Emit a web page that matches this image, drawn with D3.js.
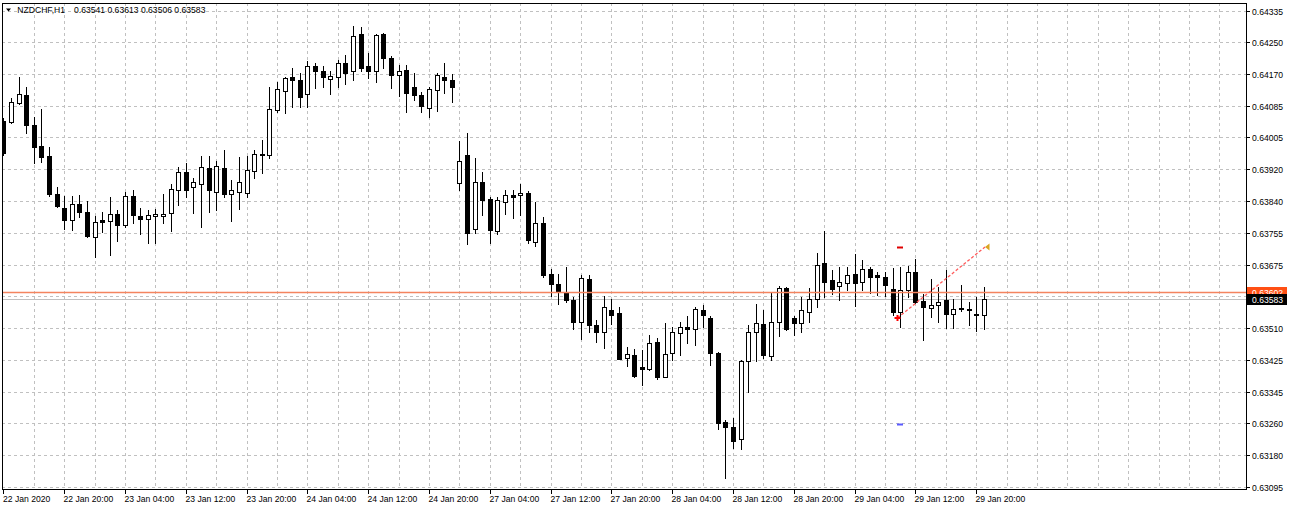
<!DOCTYPE html>
<html><head><meta charset="utf-8">
<script src="https://cdn.jsdelivr.net/npm/d3@7"></script>
<style>
html,body{margin:0;padding:0;background:#fff;}
svg{display:block;font-family:"Liberation Sans",Arial,sans-serif;}
</style></head><body>
<svg id="c" width="1290" height="510"></svg>
<script>
const symbol = "NZDCHF,H1";
const opens = [
.64045,.64044,.64091,.64113,.64034,.63981,.63955,.63856,.63820,.63788,
.63829,.63809,.63744,.63787,.63786,.63804,.63774,.63851,.63799,.63791,
.63798,.63798,.63806,.63867,.63913,.63873,.63882,.63923,.63862,.63923,
.63855,.63860,.63858,.63916,.63960,.63958,.64074,.64124,.64159,.64152,
.64116,.64189,.64174,.64155,.64159,.64195,.64174,.64272,.64187,.64176,
.64272,.64208,.64165,.64178,.64133,.64113,.64078,.64126,.64159,.64152,
.63884,.63957,.63764,.63886,.63842,.63760,.63834,.63853,.63852,.63859,
.63732,.63780,.63648,.63622,.63602,.63580,.63524,.63634,.63515,.63496,
.63553,.63547,.63429,.63438,.63407,.63400,.63470,.63381,.63442,.63494,
.63510,.63504,.63553,.63533,.63442,.63262,.63251,.63218,.63423,.63497,
.63518,.63435,.63524,.63611,.63533,.63521,.63550,.63584,.63676,.63631,
.63617,.63624,.63647,.63626,.63661,.63644,.63639,.63608,.63550,.63605,
.63652,.63578,.63559,.63567,.63580,.63543,.63560,.63557,.63543,.63541];
const highs = [
.64053,.64105,.64161,.64135,.64057,.64076,.63977,.63873,.63851,.63851,
.63853,.63838,.63799,.63810,.63847,.63814,.63861,.63866,.63819,.63814,
.63816,.63856,.63881,.63925,.63936,.63896,.63954,.63955,.63942,.63970,
.63893,.63953,.63955,.63970,.63996,.64135,.64148,.64161,.64182,.64171,
.64200,.64197,.64189,.64174,.64204,.64217,.64292,.64289,.64221,.64272,
.64275,.64213,.64191,.64191,.64169,.64122,.64135,.64169,.64197,.64168,
.63994,.64014,.63949,.63914,.63848,.63849,.63866,.63866,.63881,.63864,
.63835,.63795,.63660,.63648,.63667,.63587,.63645,.63645,.63528,.63591,
.63582,.63563,.63459,.63452,.63451,.63490,.63481,.63521,.63510,.63524,
.63539,.63563,.63567,.63539,.63445,.63269,.63273,.63425,.63515,.63570,
.63554,.63602,.63617,.63615,.63539,.63587,.63611,.63703,.63760,.63658,
.63665,.63667,.63699,.63683,.63665,.63654,.63654,.63663,.63665,.63669,
.63686,.63596,.63634,.63615,.63657,.63582,.63619,.63575,.63589,.63613];
const lows = [
.63957,.64040,.64089,.64014,.63936,.63940,.63851,.63821,.63765,.63763,
.63797,.63745,.63692,.63758,.63697,.63734,.63771,.63780,.63753,.63729,
.63729,.63780,.63760,.63827,.63847,.63807,.63771,.63809,.63813,.63849,
.63786,.63816,.63847,.63897,.63911,.63949,.64070,.64067,.64083,.64083,
.64083,.64130,.64135,.64116,.64135,.64142,.64152,.64174,.64156,.64148,
.64182,.64130,.64110,.64070,.64100,.64070,.64055,.64072,.64119,.64096,
.63866,.63725,.63755,.63801,.63729,.63752,.63804,.63793,.63801,.63729,
.63721,.63641,.63591,.63569,.63576,.63504,.63478,.63496,.63472,.63455,
.63518,.63426,.63409,.63381,.63360,.63398,.63374,.63379,.63425,.63438,
.63468,.63464,.63511,.63412,.63245,.63117,.63195,.63193,.63340,.63423,
.63429,.63425,.63487,.63502,.63489,.63498,.63524,.63561,.63589,.63596,
.63579,.63606,.63565,.63606,.63598,.63593,.63591,.63540,.63511,.63587,
.63572,.63477,.63536,.63524,.63507,.63507,.63552,.63516,.63501,.63506];
const closes = [
.63962,.64096,.64115,.64035,.63979,.63953,.63855,.63825,.63788,.63829,
.63809,.63747,.63782,.63783,.63805,.63775,.63851,.63801,.63791,.63801,
.63805,.63805,.63868,.63913,.63867,.63886,.63927,.63865,.63929,.63855,
.63866,.63888,.63918,.63959,.63956,.64076,.64128,.64156,.64152,.64107,
.64189,.64174,.64159,.64162,.64195,.64171,.64266,.64184,.64176,.64269,
.64208,.64165,.64176,.64119,.64112,.64084,.64128,.64165,.64152,.64135,
.63942,.63754,.63886,.63840,.63762,.63840,.63853,.63849,.63859,.63735,
.63781,.63645,.63621,.63602,.63579,.63522,.63637,.63515,.63496,.63561,
.63541,.63427,.63439,.63382,.63402,.63468,.63380,.63440,.63496,.63511,
.63504,.63556,.63541,.63442,.63260,.63250,.63215,.63423,.63498,.63520,
.63438,.63522,.63611,.63504,.63520,.63553,.63584,.63671,.63628,.63608,
.63627,.63645,.63625,.63661,.63639,.63641,.63619,.63548,.63605,.63652,
.63575,.63561,.63567,.63576,.63544,.63557,.63558,.63554,.63541,.63583];

const xTickLabels = ["22 Jan 2020","22 Jan 20:00","23 Jan 04:00","23 Jan 12:00","23 Jan 20:00",
  "24 Jan 04:00","24 Jan 12:00","24 Jan 20:00","27 Jan 04:00","27 Jan 12:00","27 Jan 20:00",
  "28 Jan 04:00","28 Jan 12:00","28 Jan 20:00","29 Jan 04:00","29 Jan 12:00","29 Jan 20:00"];
const yTickLabels = ["0.63095","0.63180","0.63260","0.63345","0.63425","0.63510","0.63590","0.63675",
  "0.63755","0.63840","0.63920","0.64005","0.64085","0.64170","0.64250","0.64335"];
const yTickBase = 0.63095, yTickStep = 0.000825;
const labelEvery = 8, gridEvery = 4;
const askPrice = 0.63602;   // orange line
const bidPrice = 0.63583;   // last close
const trade = {openBar:118, openPrice:0.63533, tp:0.63718, sl:0.63259, closeBar:129, closePrice:0.63719};

const svg = d3.select("#c");
const L = 2, T = 3, R = 1246, B = 489;
const x = d3.scaleLinear().domain([0, 129]).range([3.3, 983.7]);
const y = d3.scaleLinear().domain([0.63095, 0.643325]).range([486.75, 10.5]);
const n = opens.length;
const cx = i => Math.round(x(i));
const py = v => Math.round(y(v));

svg.append("rect").attr("width",1290).attr("height",510).attr("fill","#fff");
svg.append("defs").append("clipPath").attr("id","plot")
  .append("rect").attr("x",L+1).attr("y",T+1).attr("width",R-L-1).attr("height",B-T-1);

const grid = svg.append("g").attr("clip-path","url(#plot)")
  .attr("stroke","#c0c0c0").attr("stroke-dasharray","3,3").attr("shape-rendering","crispEdges");
const yTickVals = yTickLabels.map((s,k) => yTickBase + k*yTickStep);
grid.selectAll("line.h").data(yTickVals).join("line")
  .attr("x1",L).attr("x2",R).attr("y1",d=>py(d)+0.5).attr("y2",d=>py(d)+0.5);
const gridBars = d3.range(gridEvery, 164, gridEvery);
grid.selectAll("line.v").data(gridBars).join("line")
  .attr("y1",T).attr("y2",B).attr("x1",d=>cx(d)+0.5).attr("x2",d=>cx(d)+0.5);

const plot = svg.append("g").attr("clip-path","url(#plot)");
// bid line
plot.append("line").attr("x1",L).attr("x2",R).attr("y1",py(bidPrice)+0.5).attr("y2",py(bidPrice)+0.5)
  .attr("stroke","#c0c0c0").attr("shape-rendering","crispEdges");

const bars = d3.range(n).map(i => ({i, o:opens[i], h:highs[i], l:lows[i], c:closes[i]}));
const cg = plot.append("g").attr("shape-rendering","crispEdges");
cg.selectAll("line.wick").data(bars).join("line")
  .attr("x1",d=>cx(d.i)+0.5).attr("x2",d=>cx(d.i)+0.5)
  .attr("y1",d=>py(d.h)).attr("y2",d=>py(d.l)+1).attr("stroke","#000");
cg.selectAll("rect.body").data(bars).join("rect")
  .each(function(d){
    const top = py(Math.max(d.o,d.c)), bot = py(Math.min(d.o,d.c));
    const s = d3.select(this);
    if (d.c > d.o) {
      s.attr("x",cx(d.i)-1.5).attr("y",top+0.5).attr("width",4).attr("height",Math.max(bot-top,1))
       .attr("fill","#fff").attr("stroke","#000");
    } else {
      s.attr("x",cx(d.i)-2).attr("y",top).attr("width",5).attr("height",Math.max(bot-top+1,1))
       .attr("fill","#000");
    }
  });

// ask line
plot.append("line").attr("x1",L).attr("x2",R).attr("y1",py(askPrice)+0.5).attr("y2",py(askPrice)+0.5)
  .attr("stroke","#f4845f").attr("stroke-width",1.5);

// trade objects
const tx = cx(trade.openBar);
plot.append("rect").attr("x",tx-3).attr("y",py(trade.tp)-0.5).attr("width",6).attr("height",2).attr("fill","#e00000");
plot.append("rect").attr("x",tx-3).attr("y",py(trade.sl)-0.5).attr("width",6).attr("height",2).attr("fill","#5a5aff");
const ox = tx-2.5, oy = py(trade.openPrice);
const ex = cx(trade.closeBar)+1, ey = py(trade.closePrice);
plot.append("line").attr("x1",ox).attr("y1",oy).attr("x2",ex).attr("y2",ey)
  .attr("stroke","#ff5a5a").attr("stroke-width",1.3).attr("stroke-dasharray","3,2");
plot.append("path").attr("d",`M${ox-3},${oy}H${ox+3}M${ox},${oy-3}V${oy+3}`)
  .attr("stroke","#ff0000").attr("stroke-width",2);
plot.append("path").attr("d",`M${ex},${ey}L${ex+4.5},${ey-3.5}L${ex+4.5},${ey+3.5}Z`).attr("fill","#daa520");

// frame
const fr = svg.append("g").attr("stroke","#000").attr("shape-rendering","crispEdges");
fr.append("line").attr("x1",L+0.5).attr("x2",L+0.5).attr("y1",T).attr("y2",B+1);
fr.append("line").attr("x1",L).attr("x2",R+1).attr("y1",T+0.5).attr("y2",T+0.5);
fr.append("line").attr("x1",R+0.5).attr("x2",R+0.5).attr("y1",T).attr("y2",B+1);
fr.append("line").attr("x1",L).attr("x2",R+1).attr("y1",B+0.5).attr("y2",B+0.5);

// y axis ticks & labels (labels hidden where the price labels sit, as in the terminal)
const fs = "8.6px";
const ya = svg.append("g");
ya.selectAll("line").data(yTickVals).join("line")
  .attr("x1",R+1).attr("x2",R+4).attr("y1",d=>py(d)+0.5).attr("y2",d=>py(d)+0.5)
  .attr("stroke","#000").attr("shape-rendering","crispEdges");
const busy = [py(askPrice), py(bidPrice)];
const shownY = yTickLabels.map((s,k)=>({s, v:yTickVals[k]}))
  .filter(d => busy.every(b => Math.abs(py(d.v)-b) > 9));
ya.selectAll("text").data(shownY).join("text")
  .attr("x",R+6).attr("y",d=>py(d.v)+3.5).attr("font-size",fs).attr("fill","#000").text(d=>d.s);

// x axis ticks & labels
const xa = svg.append("g");
const labelBars = xTickLabels.map((s,k)=>k*labelEvery);
xa.selectAll("line").data(labelBars).join("line")
  .attr("x1",d=>cx(d)+0.5).attr("x2",d=>cx(d)+0.5).attr("y1",B).attr("y2",B+5)
  .attr("stroke","#000").attr("shape-rendering","crispEdges");
xa.selectAll("text").data(xTickLabels).join("text")
  .attr("x",(d,k)=>Math.max(cx(labelBars[k])-0.5,3)).attr("y",502).attr("font-size",fs).attr("fill","#000").text(d=>d);

// price labels
function priceLabel(v, bg, fg, h){
  const yy = py(v);
  svg.append("rect").attr("x",R+1).attr("y",yy-5).attr("width",40).attr("height",h).attr("fill",bg);
  svg.append("text").attr("x",R+6).attr("y",yy+3.5).attr("font-size",fs).attr("fill",fg).text(v.toFixed(5));
}
priceLabel(askPrice, "#ff4f14", "#fff", 11);
priceLabel(bidPrice, "#000", "#fff", 11);

// header
svg.append("path").attr("d","M6,8.5H11L8.5,11.5Z").attr("fill","#000");
svg.append("text").attr("x",17.3).attr("y",13.3).attr("font-size",fs).attr("fill","#000").text(symbol);
const last = n-1;
svg.append("text").attr("x",74).attr("y",13.3).attr("font-size",fs).attr("fill","#000")
  .text([opens[last],highs[last],lows[last],closes[last]].map(v=>v.toFixed(5)).join(" "));
</script>
</body></html>
